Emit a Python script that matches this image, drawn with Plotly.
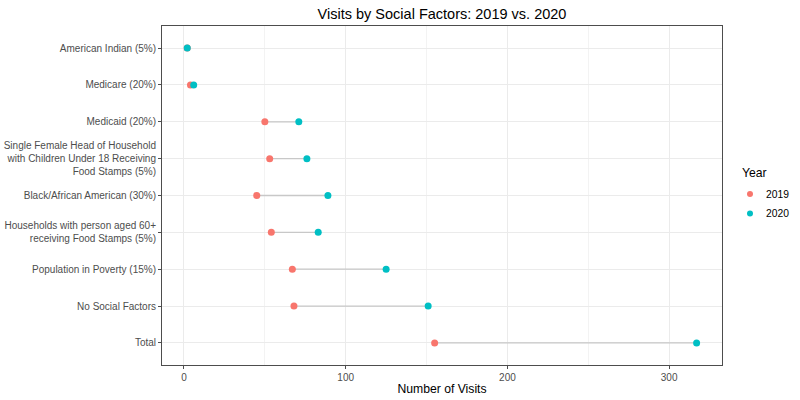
import plotly.graph_objects as go

categories = [
    "American Indian (5%)",
    "Medicare (20%)",
    "Medicaid (20%)",
    "Single Female Head of Household<br>with Children Under 18 Receiving<br>Food Stamps (5%)",
    "Black/African American (30%)",
    "Households with person aged 60+<br>receiving Food Stamps (5%)",
    "Population in Poverty (15%)",
    "No Social Factors",
    "Total",
]
visits_2019 = [2, 4, 50, 53, 45, 54, 67, 68, 155]
visits_2020 = [2, 6, 71, 76, 89, 83, 125, 151, 317]
years = ["2019", "2020"]
colors = {"2019": "#F8766D", "2020": "#00BFC4"}

seg_x, seg_y = [], []
for c, a, b in zip(categories, visits_2019, visits_2020):
    seg_x += [a, b, None]
    seg_y += [c, c, None]

W, H = 800, 400
L, R, T, B = 162, 78, 26, 35

fig = go.Figure()
fig.add_trace(go.Scatter(x=seg_x, y=seg_y, mode="lines",
                         line=dict(color="#c8c8c8", width=1.3),
                         showlegend=False, hoverinfo="skip"))
for yr, vals in zip(years, [visits_2019, visits_2020]):
    fig.add_trace(go.Scatter(x=vals, y=categories, mode="markers", name=yr,
                             showlegend=False,
                             marker=dict(color=colors[yr], size=7)))

# legend drawn as key circles + text in paper coordinates
pw, ph = W - L - R, H - T - B
def px(xp):
    return (xp - L) / pw
def py(yp):
    return 1 - (yp - T) / ph

annotations = [dict(text="Year", x=px(740), y=py(173), xref="paper", yref="paper",
                    xanchor="left", yanchor="middle", showarrow=False,
                    font=dict(size=12.2, color="black"))]
shapes = []
for i, yr in enumerate(years):
    yc = 194 + 19.5 * i
    annotations.append(dict(text=yr, x=px(764), y=py(yc), xref="paper", yref="paper",
                            xanchor="left", yanchor="middle", showarrow=False,
                            font=dict(size=10.3, color="black")))
    shapes.append(dict(type="circle", xref="paper", yref="paper",
                       x0=px(747), x1=px(753), y0=py(yc + 3), y1=py(yc - 3),
                       fillcolor=colors[yr], line=dict(width=0)))

fig.update_layout(
    width=W, height=H,
    margin=dict(l=L, r=R, t=T, b=B, autoexpand=False),
    paper_bgcolor="white", plot_bgcolor="white",
    font=dict(family="Liberation Sans, Arial, sans-serif", color="#4d4d4d", size=10),
    title=dict(text="Visits by Social Factors: 2019 vs. 2020",
               x=(L + (W - R)) / 2 / W, xanchor="center",
               y=1 - 14 / H, yanchor="middle",
               font=dict(size=14.5, color="black")),
    showlegend=False,
    annotations=annotations,
    shapes=shapes,
)
fig.update_xaxes(
    range=[-13.6, 332.7], dtick=100, tick0=0, automargin=False,
    showgrid=True, gridcolor="#ebebeb", gridwidth=1,
    minor=dict(dtick=50, showgrid=True, gridcolor="#f3f3f3", gridwidth=0.6),
    zeroline=False, showline=True, mirror=True, linecolor="#4d4d4d", linewidth=1,
    ticks="outside", ticklen=3, tickcolor="#4d4d4d",
    title=dict(text="Number of Visits", font=dict(size=12.2, color="black"), standoff=2),
    tickfont=dict(size=10, color="#4d4d4d"),
)
fig.update_yaxes(
    type="category", categoryorder="array", categoryarray=categories[::-1],
    range=[-0.6, len(categories) - 0.4], automargin=False,
    showgrid=True, gridcolor="#ebebeb", gridwidth=1,
    zeroline=False, showline=True, mirror=True, linecolor="#4d4d4d", linewidth=1,
    ticks="outside", ticklen=3, tickcolor="#4d4d4d",
    tickfont=dict(size=10, color="#4d4d4d"),
)
fig.write_html("out.html", config={"displayModeBar": False},
               post_script="document.body.style.margin='0';document.body.style.overflow='hidden';")
